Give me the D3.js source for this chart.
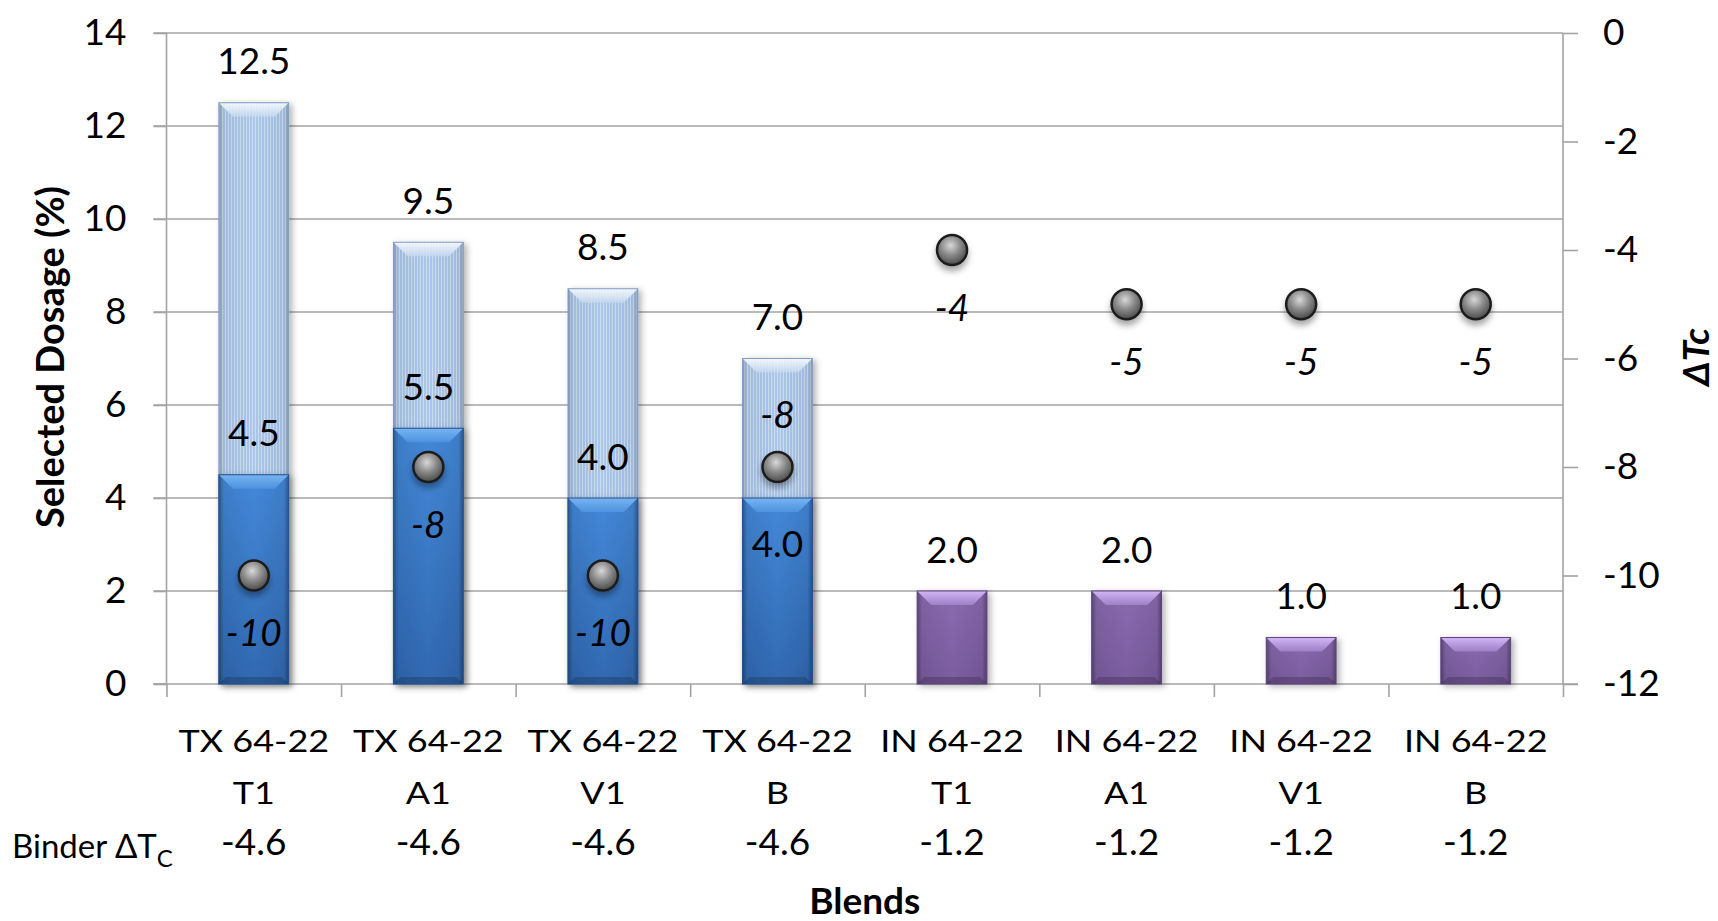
<!DOCTYPE html>
<html><head><meta charset="utf-8">
<script src="https://cdn.jsdelivr.net/npm/d3@7"></script>
<style>
body{margin:0;background:#fff;}
svg text{font-family:Lato,"Open Sans",sans-serif;fill:#000;}
</style></head><body>
<svg id="chart" width="1718" height="921"></svg>
<script>
// ---------- data ----------
const blendNames = ["TX 64-22","TX 64-22","TX 64-22","TX 64-22","IN 64-22","IN 64-22","IN 64-22","IN 64-22"];
const variants = ["T1","A1","V1","B","T1","A1","V1","B"];
const binderDTc = ["-4.6","-4.6","-4.6","-4.6","-1.2","-1.2","-1.2","-1.2"];
const binderSource = ["TX","TX","TX","TX","IN","IN","IN","IN"];
const maxDosage = [12.5, 9.5, 8.5, 7.0, null, null, null, null];
const selectedDosage = [4.5, 5.5, 4.0, 4.0, 2.0, 2.0, 1.0, 1.0];
const deltaTc = [-10, -8, -10, -8, -4, -5, -5, -5];
const leftTicks = [0, 2, 4, 6, 8, 10, 12, 14];
const rightTicks = [0, -2, -4, -6, -8, -10, -12];
const selLabelPlace = ["out","out","out","in","out","out","out","out"];
const pointLabelPlace = ["below","below","below","above","below","below","below","below"];

// ---------- layout ----------
const plot = {left:166.5, right:1563, top:33, bottom:684};
const svg = d3.select("#chart");
const idx = d3.range(blendNames.length);
const x = d3.scaleBand().domain(idx).range([plot.left, plot.right]).paddingInner(0.6).paddingOuter(0.3);
const xb = d3.scaleLinear().domain([0, idx.length]).range([plot.left, plot.right]);
const yL = d3.scaleLinear().domain([0, 14]).range([plot.bottom, plot.top]);
const yR = d3.scaleLinear().domain([-12, 0]).range([plot.bottom, plot.top]);
const gridColor = "#a3a3a3";

// ---------- defs ----------
const defs = svg.append("defs");
function lin(id, dir, stops){
  const g = defs.append("linearGradient").attr("id", id);
  if(dir==="v"){g.attr("x1",0).attr("y1",0).attr("x2",0).attr("y2",1);} else {g.attr("x1",0).attr("y1",0).attr("x2",1).attr("y2",0);}
  stops.forEach(s=>g.append("stop").attr("offset",s[0]).attr("stop-color",s[1]).attr("stop-opacity",s[2]===undefined?1:s[2]));
}
lin("blueBody","v",[[0,"#4489da"],[1,"#3169b2"]]);
lin("purpleBody","v",[[0,"#8a6cb0"],[1,"#7a5c9f"]]);
lin("sideShade","h",[[0,"#000",0.35],[0.07,"#000",0.08],[0.5,"#000",0],[0.93,"#000",0.08],[1,"#000",0.35]]);
lin("blueTop","v",[[0,"#78b4f2"],[1,"#4c92de"]]);
lin("purpleTop","v",[[0,"#d2b6f6"],[1,"#9d7fc6"]]);
lin("lightTop","v",[[0,"#ffffff"],[1,"#c3d7ef"]]);
const pat = defs.append("pattern").attr("id","stripes").attr("patternUnits","userSpaceOnUse").attr("width",3).attr("height",10);
pat.append("rect").attr("width",3).attr("height",10).attr("fill","#abc6e8");
pat.append("rect").attr("width",1).attr("height",10).attr("fill","#cddef3");
const rg = defs.append("radialGradient").attr("id","ball").attr("cx","45%").attr("cy","35%").attr("r","65%");
rg.append("stop").attr("offset",0).attr("stop-color","#d8d8d8");
rg.append("stop").attr("offset",0.5).attr("stop-color","#8a8a8a");
rg.append("stop").attr("offset",1).attr("stop-color","#4a4a4a");
const sh = defs.append("filter").attr("id","shadow").attr("x","-30%").attr("y","-30%").attr("width","160%").attr("height","160%");
sh.append("feDropShadow").attr("dx",3).attr("dy",2).attr("stdDeviation",3).attr("flood-color","#000").attr("flood-opacity",0.3);
const sh2 = defs.append("filter").attr("id","ballShadow").attr("x","-60%").attr("y","-60%").attr("width","220%").attr("height","220%");
sh2.append("feDropShadow").attr("dx",0).attr("dy",5).attr("stdDeviation",3).attr("flood-color","#000").attr("flood-opacity",0.35);

// ---------- grid ----------
svg.append("g").selectAll("line").data(leftTicks.filter(d=>d>0)).join("line")
  .attr("x1", plot.left-13).attr("x2", plot.right)
  .attr("y1", d=>yL(d)).attr("y2", d=>yL(d))
  .attr("stroke", gridColor).attr("stroke-width", 1.6);

// ---------- axes ----------
const axL = svg.append("g").attr("transform",`translate(${plot.left},0)`)
  .call(d3.axisLeft(yL).tickValues(leftTicks).tickSize(13).tickPadding(27).tickFormat(d=>String(d)));
const axR = svg.append("g").attr("transform",`translate(${plot.right},0)`)
  .call(d3.axisRight(yR).tickValues(rightTicks).tickSize(15).tickPadding(25).tickFormat(d=>String(d)));
const axB = svg.append("g").attr("transform",`translate(0,${plot.bottom})`)
  .call(d3.axisBottom(xb).tickValues(d3.range(idx.length+1)).tickSize(13).tickSizeOuter(0).tickFormat(""));
[axL, axR, axB].forEach(a=>{
  a.selectAll("path.domain").attr("stroke", gridColor).attr("stroke-width",1.6);
  a.selectAll(".tick line").attr("stroke", gridColor).attr("stroke-width",1.6);
  a.selectAll(".tick text").style("font-family","Lato").style("font-size","37px").attr("fill","#000");
});
axL.selectAll("path.domain").attr("d", `M-13,${plot.bottom}H0V${plot.top}`);
axR.selectAll("path.domain").attr("d", `M0,${plot.top}V${plot.bottom}H15`);
axB.selectAll("path.domain").attr("d", `M${plot.left-13},0H${plot.right}`);

// ---------- bars ----------
const bars = svg.append("g");
function bevelBar(x0, y0, w, h, kind){
  const g = bars.append("g").attr("filter","url(#shadow)");
  const b = Math.min(14, h/3);
  if(kind==="light"){
    g.append("rect").attr("x",x0).attr("y",y0).attr("width",w).attr("height",h).attr("fill","url(#stripes)");
    g.append("rect").attr("x",x0).attr("y",y0).attr("width",w).attr("height",h).attr("fill","url(#sideShade)").attr("opacity",0.7);
    g.append("polygon").attr("points",`${x0},${y0} ${x0+w},${y0} ${x0+w-b},${y0+b} ${x0+b},${y0+b}`).attr("fill","url(#lightTop)").attr("opacity",0.85);
    g.append("rect").attr("x",x0).attr("y",y0).attr("width",w).attr("height",h).attr("fill","none").attr("stroke","#7f9dc7").attr("stroke-width",1);
  } else {
    const body = kind==="blue" ? "url(#blueBody)" : "url(#purpleBody)";
    const top = kind==="blue" ? "url(#blueTop)" : "url(#purpleTop)";
    const edge = kind==="blue" ? "#24508c" : "#5e4580";
    g.append("rect").attr("x",x0).attr("y",y0).attr("width",w).attr("height",h).attr("fill",body);
    g.append("rect").attr("x",x0).attr("y",y0).attr("width",w).attr("height",h).attr("fill","url(#sideShade)");
    g.append("polygon").attr("points",`${x0},${y0} ${x0+w},${y0} ${x0+w-b},${y0+b} ${x0+b},${y0+b}`).attr("fill",top);
    g.append("polygon").attr("points",`${x0},${y0+h} ${x0+w},${y0+h} ${x0+w-b*0.5},${y0+h-b*0.5} ${x0+b*0.5},${y0+h-b*0.5}`).attr("fill","#000").attr("opacity",0.18);
    g.append("rect").attr("x",x0).attr("y",y0).attr("width",w).attr("height",h).attr("fill","none").attr("stroke",edge).attr("stroke-width",1);
  }
}
idx.forEach(i=>{
  if(maxDosage[i]!==null){
    bevelBar(x(i), yL(maxDosage[i]), x.bandwidth(), yL(0)-yL(maxDosage[i]), "light");
  }
});
idx.forEach(i=>{
  bevelBar(x(i), yL(selectedDosage[i]), x.bandwidth(), yL(0)-yL(selectedDosage[i]), binderSource[i]==="TX" ? "blue" : "purple");
});

// ---------- bar labels ----------
const labels = svg.append("g").style("font-size","37px");
labels.selectAll("text.max").data(idx.filter(i=>maxDosage[i]!==null)).join("text")
  .attr("x", i=>x(i)+x.bandwidth()/2).attr("y", i=>yL(maxDosage[i])-43)
  .attr("text-anchor","middle").attr("dominant-baseline","central")
  .text(i=>maxDosage[i].toFixed(1));
labels.selectAll("text.sel").data(idx).join("text")
  .attr("x", i=>x(i)+x.bandwidth()/2)
  .attr("y", i=>yL(selectedDosage[i]) + (selLabelPlace[i]==="in" ? 44 : -43))
  .attr("text-anchor","middle").attr("dominant-baseline","central")
  .text(i=>selectedDosage[i].toFixed(1));

// ---------- points ----------
const pts = svg.append("g");
pts.selectAll("circle").data(idx).join("circle")
  .attr("cx", i=>x(i)+x.bandwidth()/2).attr("cy", i=>yR(deltaTc[i]))
  .attr("r", 15).attr("fill","url(#ball)").attr("stroke","#1c1c1c").attr("stroke-width",2.5)
  .attr("filter","url(#ballShadow)");
pts.selectAll("text").data(idx).join("text")
  .attr("x", i=>x(i)+x.bandwidth()/2)
  .attr("y", i=>yR(deltaTc[i]) + (pointLabelPlace[i]==="above" ? -54 : 56))
  .attr("text-anchor","middle").attr("dominant-baseline","central")
  .style("font-size","37px").style("font-style","italic")
  .text(i=>String(deltaTc[i]));

// ---------- category labels ----------
const cat = svg.append("g");
idx.forEach(i=>{
  const cx = x(i)+x.bandwidth()/2;
  cat.append("text").attr("transform",`translate(${cx},752) scale(1.2,1)`)
    .attr("text-anchor","middle").style("font-size","30px").text(blendNames[i]);
  cat.append("text").attr("transform",`translate(${cx},804) scale(1.2,1)`)
    .attr("text-anchor","middle").style("font-size","30px").text(variants[i]);
  cat.append("text").attr("x",cx).attr("y",855)
    .attr("text-anchor","middle").style("font-size","37px").text(binderDTc[i]);
});
const bt = cat.append("text").attr("x",12).attr("y",858).style("font-size","33px");
bt.append("tspan").text("Binder \u0394T");
bt.append("tspan").attr("dy",9).style("font-size","24px").text("C");

// ---------- titles ----------
svg.append("text").attr("transform","translate(49,357) rotate(-90)")
  .attr("text-anchor","middle").attr("dominant-baseline","central")
  .style("font-size","38px").style("font-weight","bold").text("Selected Dosage (%)");
svg.append("text").attr("transform","translate(1709,357) rotate(-90)")
  .attr("text-anchor","middle")
  .style("font-size","37px").style("font-weight","bold").style("font-style","italic").text("\u0394Tc");
svg.append("text").attr("x",(plot.left+plot.right)/2).attr("y",914)
  .attr("text-anchor","middle")
  .style("font-size","37px").style("font-weight","bold").text("Blends");
</script>
</body></html>
